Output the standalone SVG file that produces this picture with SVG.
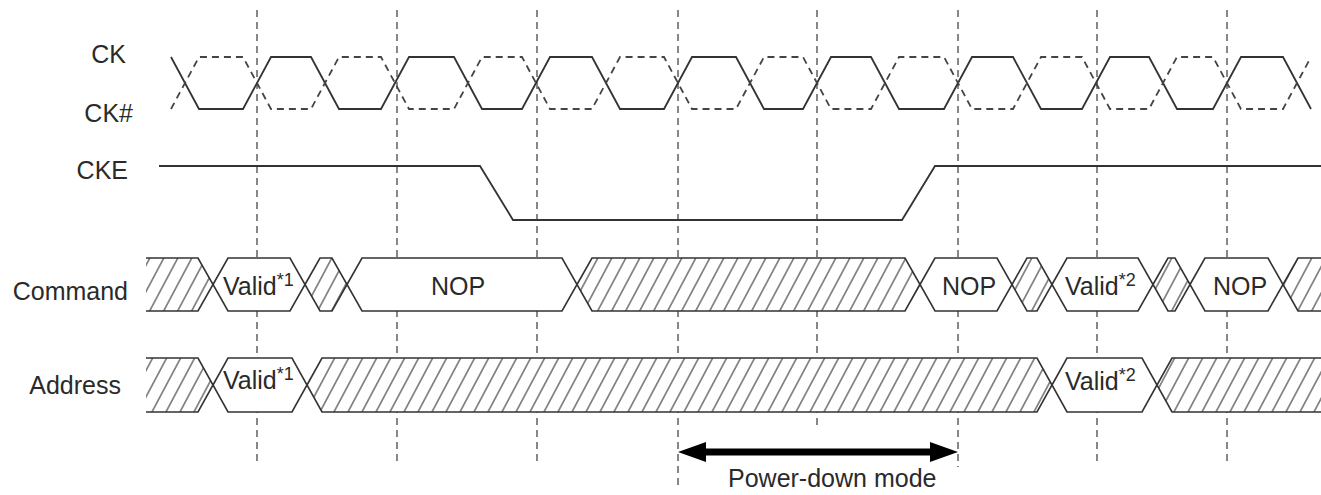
<svg xmlns="http://www.w3.org/2000/svg" width="1321" height="495" viewBox="0 0 1321 495">
<style>
  .lbl { font-family: "Liberation Sans", Arial, sans-serif; font-size: 25px; fill: #2a2a2a; }
  .sup { font-size: 18px; }
  .sig { fill: none; stroke: #333; stroke-width: 1.8; stroke-linejoin: miter; }
  .dash { fill: none; stroke: #444; stroke-width: 1.8; stroke-dasharray: 7 5; }
  .guide { stroke: #555; stroke-width: 1.4; stroke-dasharray: 7 5; }
  .box { fill: #fff; stroke: #333; stroke-width: 1.6; }
  .hbox { fill: url(#hatch); stroke: #333; stroke-width: 1.6; }
  .hfill { fill: url(#hatch); stroke: none; }
  .edge { fill: none; stroke: #333; stroke-width: 1.6; }
</style>
<defs>
  <pattern id="hatch" patternUnits="userSpaceOnUse" width="14" height="20" patternTransform="skewX(-28)">
    <rect width="14" height="20" fill="#fff"/>
    <line x1="7" y1="-1" x2="7" y2="21" stroke="#333" stroke-width="1.2"/>
  </pattern>
  <marker id="head" markerUnits="userSpaceOnUse" markerWidth="28" markerHeight="20" refX="6" refY="10" orient="auto-start-reverse">
    <path d="M0,0 L28,10 L0,20 Z" fill="#000"/>
  </marker>
</defs>
<rect width="1321" height="495" fill="#fff"/>

<g id="guides">
  <line class="guide" x1="257" y1="10" x2="257" y2="462"/>
  <line class="guide" x1="397" y1="10" x2="397" y2="462"/>
  <line class="guide" x1="537" y1="10" x2="537" y2="462"/>
  <line class="guide" x1="678" y1="10" x2="678" y2="490"/>
  <line class="guide" x1="817" y1="10" x2="817" y2="430"/>
  <line class="guide" x1="958" y1="10" x2="958" y2="467"/>
  <line class="guide" x1="1097" y1="10" x2="1097" y2="465"/>
  <line class="guide" x1="1227" y1="10" x2="1227" y2="465"/>
</g>

<g id="sig-ck">
  <text class="lbl" x="126" y="63" text-anchor="end">CK</text>
  <path class="sig" d="M171,57 L199,109 L243,109 L271,57 L311,57 L339,109 L381,109 L409,57 L454,57 L482,109 L522,109 L550,57 L592,57 L620,109 L664,109 L692,57 L736,57 L764,109 L803,109 L831,57 L871,57 L899,109 L944,109 L972,57 L1013,57 L1041,109 L1082,109 L1110,57 L1149,57 L1177,109 L1213,109 L1241,57 L1283,57 L1311,109"/>
</g>

<g id="sig-ckn">
  <text class="lbl" x="133" y="121.5" text-anchor="end">CK#</text>
  <path class="dash" d="M171,109 L199,57 L243,57 L271,109 L311,109 L339,57 L381,57 L409,109 L454,109 L482,57 L522,57 L550,109 L592,109 L620,57 L664,57 L692,109 L736,109 L764,57 L803,57 L831,109 L871,109 L899,57 L944,57 L972,109 L1013,109 L1041,57 L1082,57 L1110,109 L1149,109 L1177,57 L1213,57 L1241,109 L1283,109 L1311,57"/>
</g>

<g id="sig-cke">
  <text class="lbl" x="128" y="178.5" text-anchor="end">CKE</text>
  <path class="sig" d="M159,166 L480,166 L513,220 L902,220 L935,166 L1321,166"/>
</g>

<g id="sig-command">
  <text class="lbl" x="128" y="299.5" text-anchor="end">Command</text>
  <path class="hfill" d="M146,258 L198,258 L213,284.5 L198,311 L146,311 Z"/>
  <path class="edge" d="M146,258 L198,258 L213,284.5 L198,311 L146,311"/>
  <path class="box" d="M213,284.5 L228,258 L290,258 L305,284.5 L290,311 L228,311 Z"/>
  <path class="hbox" d="M305,284.5 L320,258 L332,258 L347,284.5 L332,311 L320,311 Z"/>
  <path class="box" d="M347,284.5 L362,258 L562,258 L577,284.5 L562,311 L362,311 Z"/>
  <path class="hbox" d="M577,284.5 L592,258 L905,258 L920,284.5 L905,311 L592,311 Z"/>
  <path class="box" d="M920,284.5 L935,258 L997,258 L1012,284.5 L997,311 L935,311 Z"/>
  <path class="hbox" d="M1012,284.5 L1027,258 L1037,258 L1052,284.5 L1037,311 L1027,311 Z"/>
  <path class="box" d="M1052,284.5 L1067,258 L1138,258 L1153,284.5 L1138,311 L1067,311 Z"/>
  <path class="hbox" d="M1153,284.5 L1168,258 L1175,258 L1190,284.5 L1175,311 L1168,311 Z"/>
  <path class="box" d="M1190,284.5 L1205,258 L1268,258 L1283,284.5 L1268,311 L1205,311 Z"/>
  <path class="hfill" d="M1322,258 L1298,258 L1283,284.5 L1298,311 L1322,311 Z"/>
  <path class="edge" d="M1322,258 L1298,258 L1283,284.5 L1298,311 L1322,311"/>
  <text class="lbl" x="223" y="295">Valid<tspan class="sup" dy="-9">*1</tspan></text>
  <text class="lbl" x="458" y="295" text-anchor="middle">NOP</text>
  <text class="lbl" x="969" y="295" text-anchor="middle">NOP</text>
  <text class="lbl" x="1065" y="295">Valid<tspan class="sup" dy="-9">*2</tspan></text>
  <text class="lbl" x="1240" y="295" text-anchor="middle">NOP</text>
</g>

<g id="sig-address">
  <text class="lbl" x="121" y="394" text-anchor="end">Address</text>
  <path class="hfill" d="M146,358 L198,358 L213,385 L198,412 L146,412 Z"/>
  <path class="edge" d="M146,358 L198,358 L213,385 L198,412 L146,412"/>
  <path class="box" d="M213,385 L228,358 L292,358 L307,385 L292,412 L228,412 Z"/>
  <path class="hbox" d="M307,385 L322,358 L1037,358 L1052,385 L1037,412 L322,412 Z"/>
  <path class="box" d="M1052,385 L1067,358 L1142,358 L1157,385 L1142,412 L1067,412 Z"/>
  <path class="hfill" d="M1322,358 L1172,358 L1157,385 L1172,412 L1322,412 Z"/>
  <path class="edge" d="M1322,358 L1172,358 L1157,385 L1172,412 L1322,412"/>
  <text class="lbl" x="223" y="389">Valid<tspan class="sup" dy="-9">*1</tspan></text>
  <text class="lbl" x="1065" y="390">Valid<tspan class="sup" dy="-9">*2</tspan></text>
</g>

<g id="connectors">
  <line x1="700" y1="452" x2="936" y2="452" stroke="#000" stroke-width="7" marker-start="url(#head)" marker-end="url(#head)"/>
  <text class="lbl" x="728" y="487">Power-down mode</text>
</g>
</svg>
